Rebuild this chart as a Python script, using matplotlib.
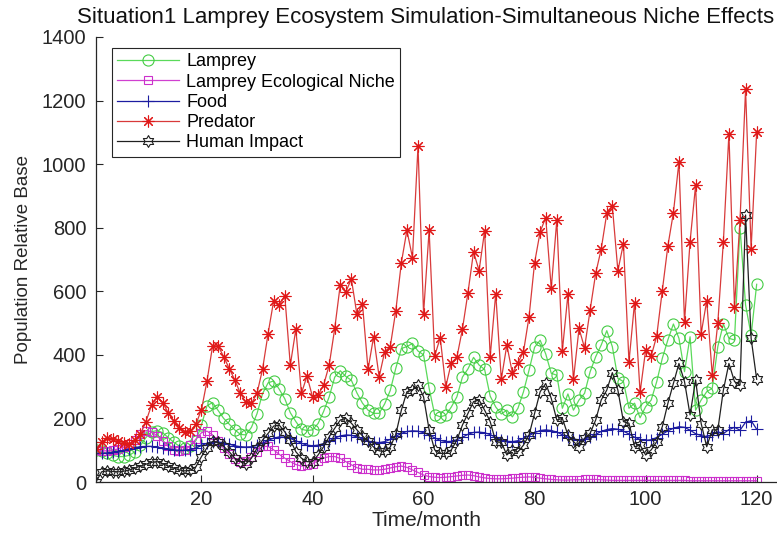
import numpy as np
import matplotlib
matplotlib.use("Agg")
import matplotlib.pyplot as plt
from matplotlib.path import Path

plt.rcParams['font.family'] = ['Liberation Sans', 'DejaVu Sans']

months = list(range(1, 121))

lamprey = [100, 96, 90, 84, 80, 80, 84, 95, 115, 140,
           158, 162, 155, 140, 125, 113, 108, 112, 130, 180,
           240, 250, 225, 200, 182, 164, 150, 148, 172, 215,
           278, 312, 318, 292, 262, 218, 190, 166, 162, 164,
           184, 222, 268, 330, 350, 332, 320, 280, 248, 226,
           216, 216, 246, 288, 358, 420, 426, 436, 412, 400,
           295, 212, 205, 210, 236, 268, 330, 356, 392, 368,
           354, 270, 236, 214, 226, 205, 232, 284, 352, 424,
           446, 403, 342, 336, 232, 277, 226, 258, 279, 347,
           394, 431, 476, 426, 326, 316, 232, 248, 202, 237,
           258, 316, 389, 447, 497, 452, 347, 457, 226, 258,
           284, 295, 426, 497, 452, 447, 800, 557, 462, 622]

niche = [100, 98, 98, 100, 104, 110, 118, 132, 150, 162,
         158, 145, 128, 112, 102, 96, 100, 115, 135, 155,
         160, 148, 128, 106, 87, 72, 64, 66, 78, 95,
         112, 112, 101, 87, 75, 64, 55, 50, 52, 58,
         67, 75, 80, 80, 74, 64, 54, 45, 40, 40,
         38, 38, 40, 44, 48, 50, 46, 38, 30, 22,
         17, 15, 14, 15, 17, 19, 21, 22, 20, 16,
         13, 11, 10, 10, 11, 12, 14, 15, 16, 15,
         12, 10, 8, 7, 6, 6, 7, 7, 8, 8,
         8, 7, 6, 5, 5, 5, 5, 5, 5, 5,
         5, 5, 5, 5, 5, 5, 5, 4, 4, 4,
         4, 4, 4, 4, 4, 4, 4, 4, 4, 4]

food = [90, 90, 91, 93, 96, 100, 104, 108, 111, 112,
        112, 110, 107, 104, 101, 100, 100, 102, 107, 115,
        122, 126, 126, 123, 119, 114, 111, 110, 111, 115,
        122, 131, 138, 142, 141, 137, 130, 122, 116, 114,
        116, 121, 129, 138, 145, 148, 147, 142, 135, 129,
        125, 124, 127, 134, 144, 153, 159, 161, 160, 155,
        148, 139, 131, 127, 128, 133, 141, 150, 156, 157,
        155, 149, 141, 133, 128, 127, 130, 137, 146, 155,
        162, 164, 162, 157, 149, 141, 135, 133, 135, 141,
        150, 159, 165, 168, 166, 160, 151, 141, 134, 131,
        133, 140, 150, 161, 169, 174, 172, 163, 152, 146,
        143, 149, 158, 152, 165, 172, 163, 188, 193, 166]

predator = [103, 125, 140, 136, 130, 122, 120, 132, 150, 190,
            242, 268, 250, 218, 192, 170, 158, 160, 182, 228,
            318, 428, 428, 394, 357, 321, 279, 251, 247, 279,
            355, 467, 570, 557, 586, 368, 481, 279, 333, 268,
            274, 305, 368, 483, 621, 599, 638, 527, 559, 354,
            457, 331, 410, 426, 539, 690, 792, 706, 1057, 530,
            792, 396, 454, 300, 375, 392, 481, 596, 724, 665,
            790, 394, 593, 323, 431, 342, 375, 410, 520, 690,
            787, 832, 609, 824, 413, 590, 323, 483, 422, 541,
            656, 733, 845, 868, 665, 750, 378, 564, 282, 415,
            396, 460, 602, 742, 847, 1007, 504, 756, 934, 467,
            570, 336, 501, 756, 1096, 551, 824, 1235, 733, 1102]

human = [0, 32, 35, 33, 32, 34, 38, 44, 50, 56,
         62, 64, 58, 50, 44, 38, 35, 37, 48, 80,
         108, 128, 125, 112, 95, 75, 64, 57, 75, 106,
         132, 153, 176, 179, 158, 132, 95, 75, 64, 64,
         85, 111, 142, 169, 195, 200, 185, 164, 145, 128,
         110, 98, 96, 110, 150, 226, 284, 289, 305, 268,
         164, 101, 90, 90, 101, 132, 179, 216, 253, 258,
         226, 190, 127, 125, 85, 101, 95, 116, 148, 216,
         284, 310, 263, 195, 200, 148, 127, 111, 137, 153,
         195, 258, 289, 344, 289, 190, 185, 111, 116, 85,
         101, 127, 174, 247, 310, 373, 316, 211, 321, 184,
         111, 164, 164, 289, 373, 316, 305, 840, 452, 323]

series_names = ['Lamprey', 'Lamprey Ecological Niche', 'Food', 'Predator', 'Human Impact']
x_ticks = [20, 40, 60, 80, 100, 120]
y_ticks = [0, 200, 400, 600, 800, 1000, 1200, 1400]

# hexagram marker
ang = np.deg2rad(90 + 30 * np.arange(12))
rad = np.where(np.arange(12) % 2 == 0, 1.0, 0.577)
verts = np.column_stack([rad * np.cos(ang), rad * np.sin(ang)])
verts = np.vstack([verts, verts[:1]])
codes = [Path.MOVETO] + [Path.LINETO] * 11 + [Path.CLOSEPOLY]
hexagram = Path(verts, codes)

fig = plt.figure(figsize=(7.77, 5.34), dpi=100)
ax = fig.add_axes([96 / 777, 52 / 534, 681 / 777, 445 / 534])

lw = 0.9
mew = 0.8
ax.plot(months, lamprey, color='#5ada5a', lw=lw, marker='o', ms=8,
        mfc='none', mec='#44cc44', mew=mew, label=series_names[0])
ax.plot(months, niche, color='#d040d0', lw=lw, marker='s', ms=6.2,
        mfc='none', mec='#cc30cc', mew=mew, label=series_names[1])
ax.plot(months, food, color='#1c1ca0', lw=lw, marker='+', ms=8.5,
        mec='#1c1ca0', mew=mew, label=series_names[2])
ax.plot(months, predator, color='#d83a3a', lw=lw, marker=(8, 2, 0), ms=8.5,
        mec='#e01818', mew=mew, label=series_names[3])
ax.plot(months, human, color='#202020', lw=lw, marker=hexagram, ms=8.5,
        mfc='none', mec='#202020', mew=mew, label=series_names[4])

ax.set_xlim(1, 123.66)
ax.set_ylim(0, 1400)
ax.set_xticks(x_ticks)
ax.set_yticks(y_ticks)
ax.tick_params(direction='in', length=5, width=0.8, labelsize=14.5, colors='#262626')
ax.tick_params(axis='y', pad=7)
ax.tick_params(axis='x', pad=6)
ax.spines['top'].set_visible(False)
ax.spines['right'].set_visible(False)
for s in ('left', 'bottom'):
    ax.spines[s].set_color('#262626')
    ax.spines[s].set_linewidth(0.9)

ax.set_xlabel('Time/month', fontsize=15, color='#262626')
ax.xaxis.set_label_coords((427 - 96) / 681, -0.066)
ax.set_ylabel('Population Relative Base', fontsize=13.5, color='#262626', labelpad=7)
fig.text(426 / 777, 1 - 17 / 534, 'Situation1 Lamprey Ecosystem Simulation-Simultaneous Niche Effects',
         ha='center', va='center', fontsize=16, color='#111111')

leg = ax.legend(loc='upper left', bbox_to_anchor=(16 / 681, 1 - 11 / 445), borderaxespad=0,
                fontsize=13, frameon=True, fancybox=False, framealpha=1, edgecolor='#262626',
                handlelength=3.4, handletextpad=0.4, labelspacing=0.18, borderpad=0.3)
leg.get_frame().set_linewidth(0.8)

fig.savefig('out.png', dpi=100)
